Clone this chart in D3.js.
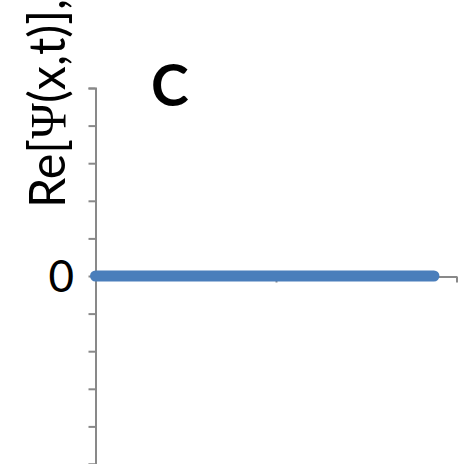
<!DOCTYPE html>
<html><head><meta charset="utf-8">
<script src="https://cdn.jsdelivr.net/npm/d3@7"></script>
<style>html,body{margin:0;padding:0;background:#fff;}svg{display:block;}</style>
</head><body>
<script>
// Data
const xValues = [0, 0.25, 0.5, 0.75, 1, 1.25, 1.5, 1.75, 1.875];
const reValues = [0, 0, 0, 0, 0, 0, 0, 0, 0];
const xTicks = [0, 1, 2];
const yTicks = [-5, -4, -3, -2, -1, 0, 1, 2, 3, 4, 5];
const yLabelTicks = [0];
const yAxisTitleParts = ["Re[", "\u03A8", "(x,t)],"];
const panelLabel = "C";

const W = 464, H = 464;
const svg = d3.select("body").append("svg").attr("width", W).attr("height", H);
const axisColor = "#898989";

const x = d3.scaleLinear().domain([0, 2]).range([95.5, 456.5]);
const y = d3.scaleLinear().domain([-5, 5]).range([464, 88]);

// Y axis
const yAxis = svg.append("g").attr("transform", `translate(${x(0)},0)`)
  .call(d3.axisLeft(y).tickValues(yTicks).tickSize(7).tickFormat(""));
yAxis.selectAll("path").attr("stroke", axisColor).attr("stroke-width", 2);
yAxis.selectAll("line").attr("stroke", axisColor).attr("stroke-width", 2);

// X axis
const xAxis = svg.append("g").attr("transform", `translate(0,${y(0) + 0.5})`)
  .call(d3.axisBottom(x).tickValues(xTicks).tickSize(6).tickSizeOuter(0).tickFormat(""));
xAxis.selectAll("path").attr("stroke", axisColor).attr("stroke-width", 2);
xAxis.selectAll("line").attr("stroke", axisColor).attr("stroke-width", 2);

// Y tick label
svg.selectAll("text.ylab").data(yLabelTicks).enter().append("text")
  .attr("class", "ylab")
  .attr("x", 74).attr("y", d => y(d))
  .attr("dy", "0.36em")
  .attr("text-anchor", "end")
  .attr("font-family", "Lato, 'Open Sans', sans-serif")
  .attr("font-size", 44)
  .attr("fill", "#000")
  .text(d => d);

// Line
const data = xValues.map((v, i) => ({x: v, y: reValues[i]}));
svg.append("path").datum(data)
  .attr("fill", "none")
  .attr("stroke", "#4a7ebb")
  .attr("stroke-width", 11)
  .attr("stroke-linecap", "round")
  .attr("stroke-linejoin", "round")
  .attr("d", d3.line().x(d => x(d.x)).y(d => y(d.y)));

// Axis title (rotated)
const title = svg.append("text")
  .attr("transform", "translate(65,208) rotate(-90) scale(0.95,1)")
  .attr("font-family", "Lato, 'Open Sans', sans-serif")
  .attr("font-size", 51)
  .attr("fill", "#000");
title.selectAll("tspan").data(yAxisTitleParts).enter().append("tspan")
  .attr("font-family", (d, i) => i === 1 ? "'Liberation Serif', 'DejaVu Serif', serif" : null)
  .text(d => d);

// Panel label
svg.append("text")
  .attr("x", 151).attr("y", 106)
  .attr("font-family", "Lato, 'Open Sans', sans-serif")
  .attr("font-weight", "bold")
  .attr("font-size", 57)
  .attr("fill", "#000")
  .text(panelLabel);
</script>
</body></html>
